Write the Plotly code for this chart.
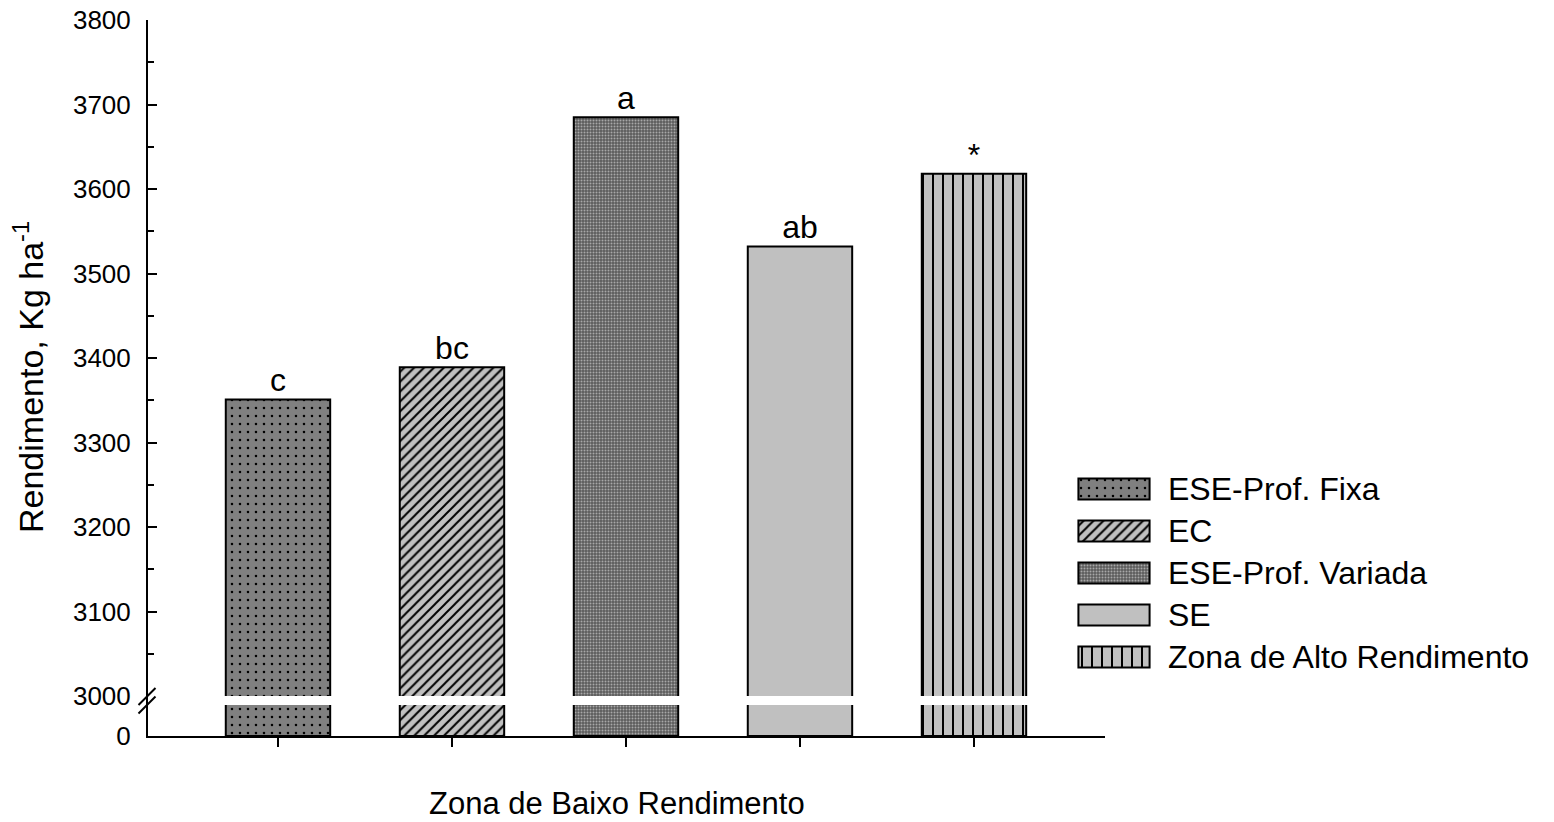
import plotly.graph_objects as go

# Treatments, mean yield and significance letters
categories = ["ESE-Prof. Fixa", "EC", "ESE-Prof. Variada", "SE", "Zona de Alto Rendimento"]
yield_kg_ha = [3351, 3389, 3685, 3532, 3618]
letters = ["c", "bc", "a", "ab", "*"]

# Fill style for each treatment
fill_colors = ["#808080", "#c0c0c0", "#5c5c5c", "#c0c0c0", "#c0c0c0"]
pattern_shapes = [".", "/", ".", "", "|"]
pattern_fg = ["#000000", "#000000", "#a8a8a8", "#000000", "#000000"]
pattern_size = [8, 7, 3, 8, 10]
pattern_solidity = [0.08, 0.28, 0.35, 0.1, 0.2]

y_ticks = list(range(3000, 3801, 100))

W, H = 1554, 822
FONT = "Liberation Sans, Arial, sans-serif"


def fx(p):
    return p / W


def fy(p):
    return 1 - p / H


# plot-area geometry (pixels)
X_LEFT, X_RIGHT = 148, 1105
Y_TOP, Y_BREAK_HI, Y_BREAK_LO, Y_BOTTOM = 20, 696, 705, 736


def bar_marker(i):
    pat = dict(shape=pattern_shapes[i], fillmode="replace")
    if pattern_shapes[i]:
        pat.update(fgcolor=pattern_fg[i], bgcolor=fill_colors[i], fgopacity=1,
                   size=pattern_size[i], solidity=pattern_solidity[i])
    return dict(color=fill_colors[i], line=dict(color="black", width=2), pattern=pat)


fig = go.Figure()

for i, (cat, val) in enumerate(zip(categories, yield_kg_ha)):
    # upper (3000-3800) segment
    fig.add_trace(go.Bar(x=[cat], y=[val], width=0.6, marker=bar_marker(i), name=cat,
                         xaxis="x", yaxis="y", showlegend=False, hoverinfo="skip"))
    # lower (0) segment below the break
    fig.add_trace(go.Bar(x=[cat], y=[val], width=0.6, marker=bar_marker(i), name=cat,
                         xaxis="x", yaxis="y2", showlegend=False, hoverinfo="skip"))
    # legend swatch
    fig.add_trace(go.Bar(x=[1], y=[cat], orientation="h", width=0.5, marker=bar_marker(i),
                         name=cat, xaxis="x3", yaxis="y3", showlegend=False, hoverinfo="skip"))

# significance letters
fig.add_trace(go.Scatter(x=categories, y=yield_kg_ha, mode="text", text=letters,
                         textposition="top center", cliponaxis=False,
                         textfont=dict(family=FONT, size=32, color="black"),
                         xaxis="x", yaxis="y", showlegend=False, hoverinfo="skip"))

axis_common = dict(showgrid=False, zeroline=False, showline=True, linecolor="black",
                   linewidth=2, fixedrange=True, automargin=False)

fig.update_layout(
    template="none",
    width=W, height=H,
    margin=dict(l=0, r=0, t=0, b=0, pad=0),
    paper_bgcolor="white", plot_bgcolor="white",
    barmode="overlay",
    showlegend=False,
    font=dict(family=FONT, color="black"),
    xaxis=dict(
        **axis_common,
        domain=[fx(X_LEFT), fx(X_RIGHT)],
        anchor="y2",
        type="category", categoryorder="array", categoryarray=categories,
        range=[-0.747, 4.753],
        ticks="outside", ticklen=9, tickwidth=2, tickcolor="black",
        showticklabels=False,
    ),
    yaxis=dict(
        **axis_common,
        domain=[fy(Y_BREAK_HI), fy(Y_TOP)],
        anchor="x",
        range=[3000, 3800],
        tickvals=y_ticks,
        ticks="inside", ticklen=9, tickwidth=2, tickcolor="black",
        minor=dict(ticks="inside", ticklen=6, tickwidth=2, tickcolor="black", dtick=50,
                   showgrid=False),
        tickfont=dict(family=FONT, size=26, color="black"),
        ticklabelstandoff=10,
    ),
    yaxis2=dict(
        **axis_common,
        domain=[fy(Y_BOTTOM), fy(Y_BREAK_LO)],
        anchor="x",
        range=[0, 36],
        tickvals=[0],
        ticks="inside", ticklen=9, tickwidth=2, tickcolor="black",
        tickfont=dict(family=FONT, size=26, color="black"),
        ticklabelstandoff=10,
    ),
    xaxis3=dict(domain=[fx(1077), fx(1151)], anchor="y3", range=[-0.02, 1.02],
                visible=False, fixedrange=True, automargin=False),
    yaxis3=dict(
        domain=[fy(678), fy(468)], anchor="x3",
        type="category", categoryorder="array", categoryarray=categories,
        range=[4.5, -0.5],
        side="right", showline=False, showgrid=False, zeroline=False, ticks="",
        tickfont=dict(family=FONT, size=32, color="black"),
        ticklabelstandoff=16, fixedrange=True, automargin=False,
    ),
)

# axis titles
fig.add_annotation(text="Rendimento, Kg ha<sup>-1</sup>", textangle=-90,
                   x=fx(29), y=fy(377), xref="paper", yref="paper",
                   xanchor="center", yanchor="middle",
                   showarrow=False, font=dict(family=FONT, size=34, color="black"))
fig.add_annotation(text="Zona de Baixo Rendimento",
                   x=fx(617), y=fy(803), xref="paper", yref="paper",
                   xanchor="center", yanchor="middle",
                   showarrow=False, font=dict(family=FONT, size=31, color="black"))

# y-axis continues through the break
fig.add_shape(type="line", xref="paper", yref="paper",
              x0=fx(X_LEFT - 1), x1=fx(X_LEFT - 1), y0=fy(Y_BREAK_HI), y1=fy(Y_BREAK_LO),
              line=dict(color="black", width=2))
# break marks "//"
y_mid = (Y_BREAK_HI + Y_BREAK_LO) / 2
for dy in (4, -4.5):
    fig.add_shape(type="line", xref="paper", yref="paper",
                  xsizemode="pixel", ysizemode="pixel",
                  xanchor=fx(X_LEFT - 1), yanchor=fy(y_mid),
                  x0=-8.5, x1=8.5, y0=dy - 8.5, y1=dy + 8.5,
                  line=dict(color="black", width=2))

fig.write_html("out.html")
